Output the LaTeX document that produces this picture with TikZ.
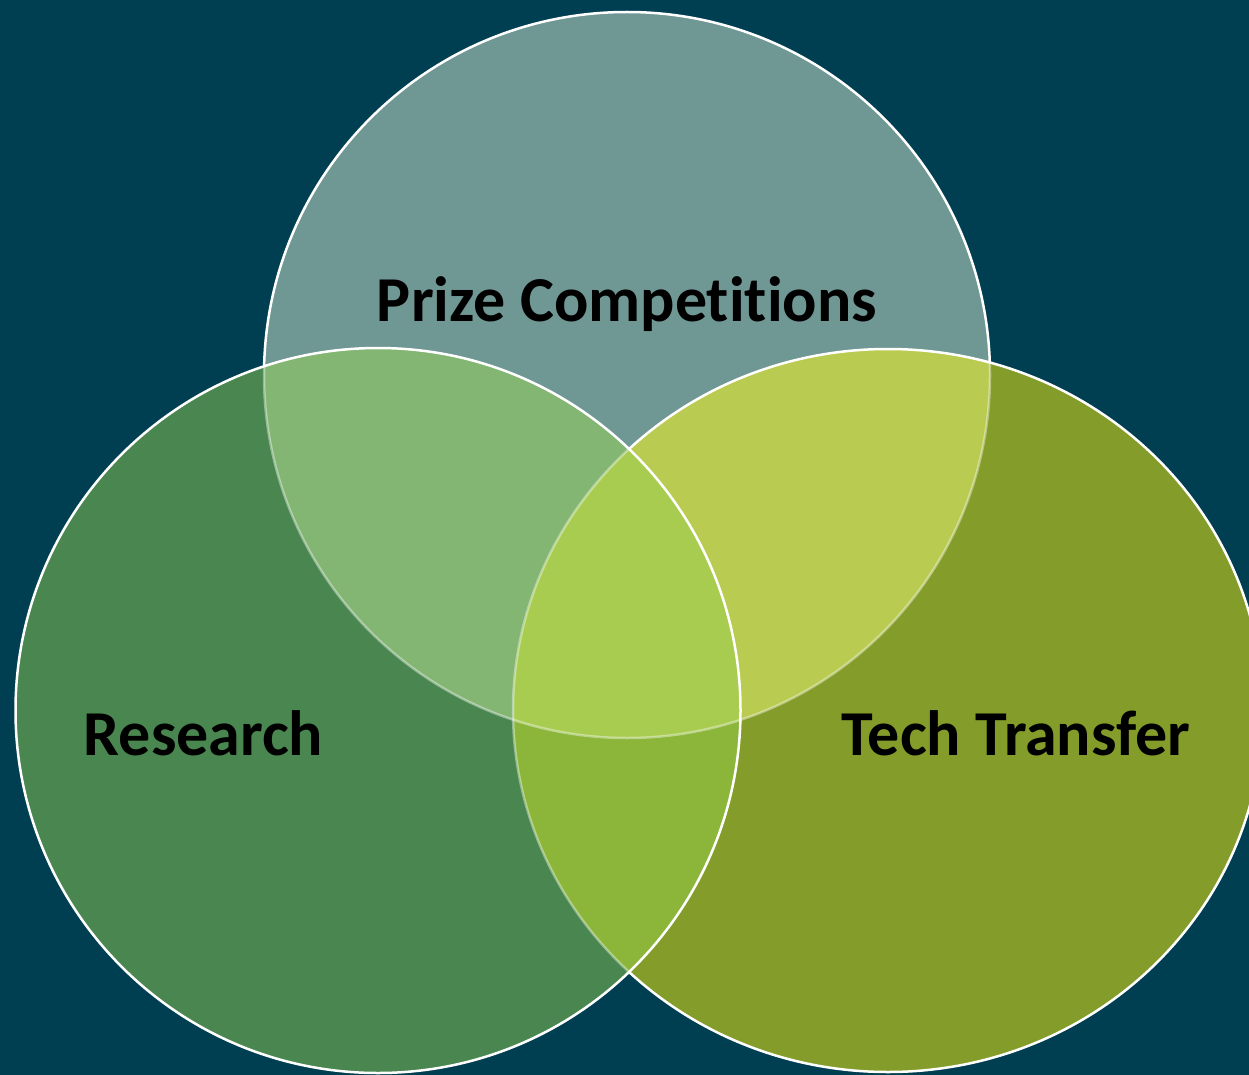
\documentclass[tikz,border=0pt]{standalone}
\usepackage{fontspec}
\setmainfont{Carlito}[Ligatures=NoCommon]
\definecolor{bg}{HTML}{003E52}
\definecolor{cT}{HTML}{6F9794}
\definecolor{cL}{HTML}{4A8750}
\definecolor{cR}{HTML}{849C2A}
\definecolor{cTL}{HTML}{83B573}
\definecolor{cTR}{HTML}{B9CB50}
\definecolor{cLR}{HTML}{8BB63A}
\definecolor{cA}{HTML}{A7CC50}
\tikzset{
  edge/.style={draw=white, line width=2.5pt},
  fadeedge/.style={draw=white, draw opacity=0.4, line width=2.5pt},
  lbl/.style={font=\bfseries\fontsize{64}{70}\selectfont, text=black, inner sep=0pt, anchor=base}
}
\begin{document}
\begin{tikzpicture}[x=1pt,y=-1pt]
\useasboundingbox (0,0) rectangle (1249,1075);
\fill[bg] (0,0) rectangle (1249,1075);
\def\pT{(627,375) circle[radius=363pt]}
\def\pR{(888,710.5) ellipse[x radius=375pt, y radius=361.5pt]}
\def\pL{(378,710.5) circle[radius=362.5pt]}
\begin{scope}
\clip (0,0) rectangle (1249,1075);
% top circle
\fill[cT] \pT;
\draw[edge] \pT;
% right circle
\fill[cR] \pR;
\begin{scope}
  \clip \pR;
  \fill[cTR] \pT;
  \draw[fadeedge] \pT;
\end{scope}
\draw[edge] \pR;
% left circle
\fill[cL] \pL;
\begin{scope}
  \clip \pL;
  \fill[cTL] \pT;
  \fill[cLR] \pR;
  \begin{scope}
    \clip \pT;
    \fill[cA] \pR;
  \end{scope}
  \draw[fadeedge] \pT;
  \draw[fadeedge] \pR;
\end{scope}
\draw[edge] \pL;
\end{scope}
\node[lbl] (prize) at (627,321) {Prize Competitions};
\node[lbl] (research) at (203.5,755) {Research};
\node[lbl] (tech) at (1016,755) {Tech Transfer};
\end{tikzpicture}
\end{document}
